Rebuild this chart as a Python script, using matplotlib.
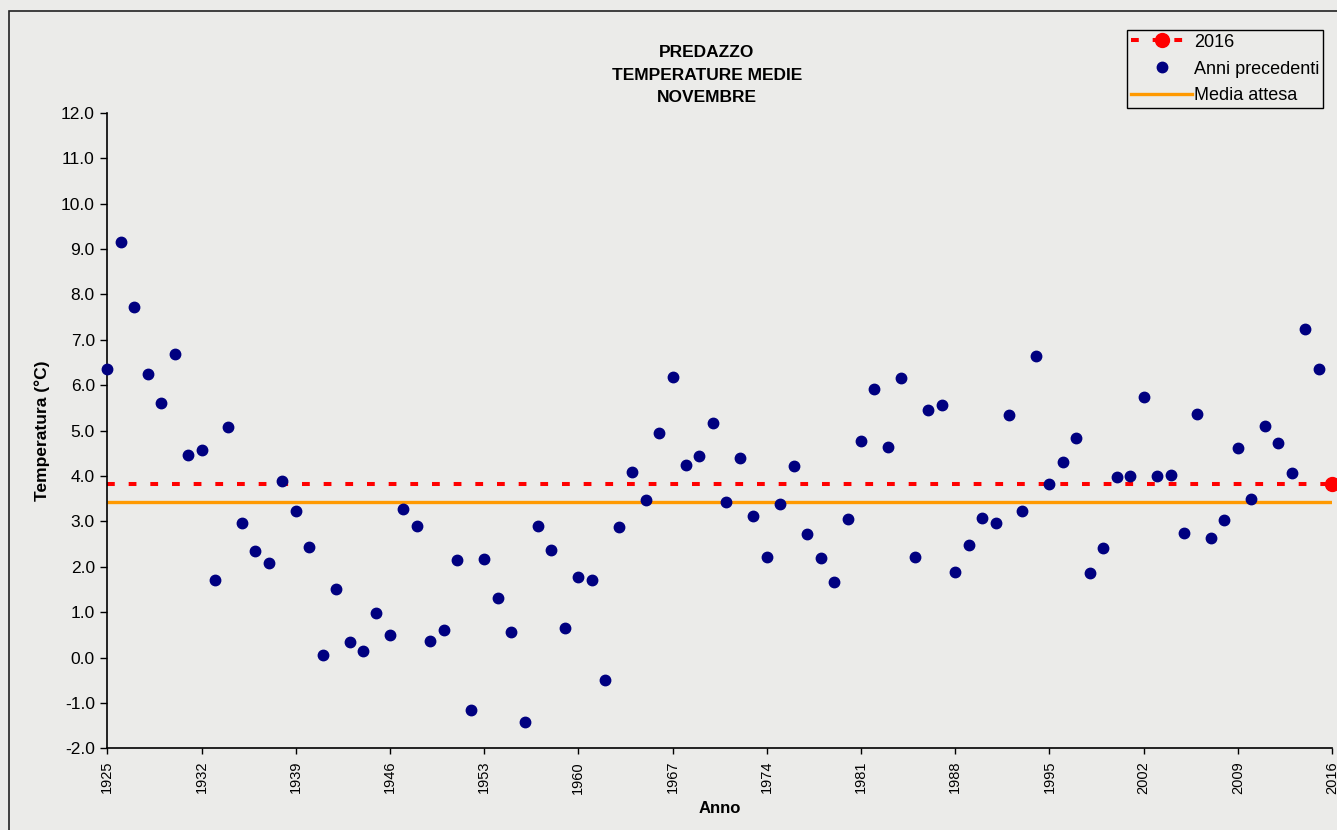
import matplotlib
matplotlib.use('Agg')
import matplotlib.pyplot as plt
from matplotlib.lines import Line2D
from matplotlib.patches import Rectangle

plt.rcParams['font.family'] = ['Liberation Sans', 'DejaVu Sans']
plt.rcParams['axes.unicode_minus'] = False
plt.rcParams['lines.scale_dashes'] = False

# Data: mean November temperature (°C) at Predazzo
years = list(range(1925, 2016))
temps = [
    6.35, 9.15, 7.72, 6.24, 5.61, 6.68, 4.46, 4.57, 1.71, 5.09,  # 1925-1934
    2.96, 2.35, 2.08, 3.90, 3.23, 2.44, 0.06, 1.50, 0.34, 0.14,  # 1935-1944
    0.99, 0.50, 3.27, 2.89, 0.37, 0.61, 2.16, -1.15, 2.17, 1.32,  # 1945-1954
    0.57, -1.41, 2.90, 2.36, 0.65, 1.78, 1.70, -0.49, 2.87, 4.09,  # 1955-1964
    3.47, 4.95, 6.19, 4.25, 4.43, 5.17, 3.43, 4.39, 3.11, 2.22,  # 1965-1974
    3.38, 4.22, 2.72, 2.19, 1.67, 3.06, 4.77, 5.91, 4.64, 6.16,  # 1975-1984
    2.21, 5.45, 5.56, 1.89, 2.47, 3.07, 2.96, 5.35, 3.23, 6.65,  # 1985-1994
    3.82, 4.31, 4.83, 1.86, 2.42, 3.98, 4.00, 5.73, 4.01, 4.02,  # 1995-2004
    2.75, 5.37, 2.64, 3.02, 4.61, 3.49, 5.10, 4.72, 4.07, 7.24,  # 2005-2014
    6.36,                                                        # 2015
]
year_current = 2016
temp_current = 3.82
media_attesa = 3.43

x_ticks = list(range(1925, 2017, 7))
y_ticks = [-2, -1, 0, 1, 2, 3, 4, 5, 6, 7, 8, 9, 10, 11, 12]

BG = '#ebebe9'
NAVY = '#000080'
RED = '#ff0000'
ORANGE = '#ff9900'

W, H = 1337, 830
fig = plt.figure(figsize=(W / 100, H / 100), dpi=100, facecolor=BG)
ax = fig.add_axes([107.3 / W, 1 - 748.4 / H, (1332 - 107.3) / W, (748.4 - 112.8) / H])
ax.set_facecolor('none')

# outer chart border (cut at right/bottom as in the original)
fig.patches.append(Rectangle((9 / W, -0.1), 1.2, 1.1 - 11 / H, transform=fig.transFigure,
                             fill=False, edgecolor='#222222', lw=1.2))

# reference lines
ax.plot([years[0], year_current], [media_attesa, media_attesa], color=ORANGE, lw=2.4,
        solid_capstyle='butt', zorder=2)
ax.plot([years[0], year_current], [temp_current, temp_current], color=RED, lw=2.9,
        dashes=(5.6, 10.0), dash_capstyle='butt', zorder=2)

# points
ax.plot(years, temps, ls='none', marker='o', ms=7.5, color=NAVY, mec=NAVY,
        clip_on=False, zorder=3)
ax.plot([year_current], [temp_current], ls='none', marker='o', ms=10, color=RED, mec=RED,
        clip_on=False, zorder=4)

ax.set_xlim(1925, 2016)
ax.set_ylim(-2, 12)
ax.set_xticks(x_ticks)
ax.set_xticklabels([str(y) for y in x_ticks], rotation=90, fontsize=10.5)
ax.set_yticks(y_ticks)
ax.set_yticklabels([f'{v:.1f}' for v in y_ticks], fontsize=12.5)
ax.tick_params(axis='y', direction='out', length=5, width=1, pad=4)
ax.tick_params(axis='x', direction='out', length=4, width=1, pad=5)

for side in ['top', 'right']:
    ax.spines[side].set_visible(False)
for side in ['left', 'bottom']:
    ax.spines[side].set_linewidth(1.2)

ax.set_xlabel('Anno', fontsize=12, fontweight='bold', labelpad=5)
ax.set_ylabel('Temperatura (°C)', fontsize=12.5, fontweight='bold', labelpad=8)

fig.text(707 / W, 1 - 75 / H, 'PREDAZZO\nTEMPERATURE MEDIE\nNOVEMBRE', ha='center',
         va='center', fontsize=12.5, fontweight='bold', linespacing=1.6)

handles = [
    Line2D([], [], color=RED, lw=2.9, dashes=(5.6, 10.0), marker='o', ms=10, mec=RED),
    Line2D([], [], ls='none', color=NAVY, marker='o', ms=7.5, mec=NAVY),
    Line2D([], [], color=ORANGE, lw=2.4),
]
leg = fig.legend(handles, ['2016', 'Anni precedenti', 'Media attesa'],
                 loc='upper right', bbox_to_anchor=(1323 / W, 1 - 30 / H),
                 fontsize=13, frameon=True, fancybox=False, framealpha=1,
                 facecolor=BG, edgecolor='black', borderpad=0.2, labelspacing=0.55,
                 handlelength=3.4, handletextpad=0.1, borderaxespad=0, numpoints=1)
leg.get_frame().set_linewidth(1)

fig.savefig('out.png', dpi=100, facecolor=BG)
